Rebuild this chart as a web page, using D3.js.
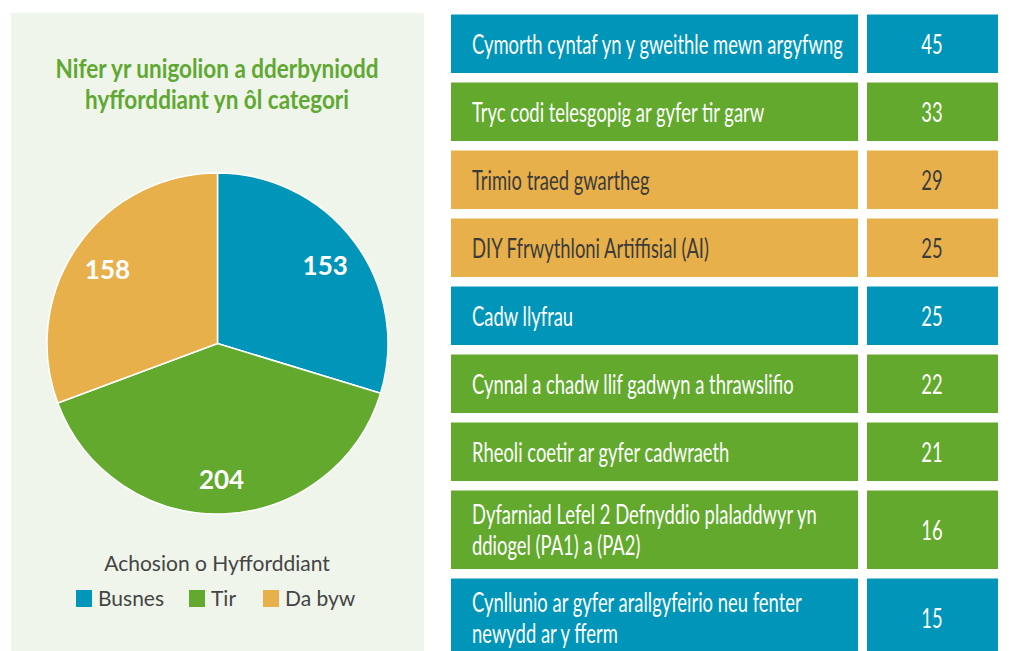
<!DOCTYPE html>
<meta charset="utf-8">
<script src="https://d3js.org/d3.v7.min.js"></script>
<style>
  body { margin: 0; background: #fff; }
</style>
<div id="chart"></div>
<script>

  // data
  var pieCategories = ["Busnes", "Tir", "Da byw"];
  var pieValues = [153, 204, 158];
  var categoryColors = ["#0095b9", "#62a92e", "#e8b04b"];

  var courseNames = [
    "Cymorth cyntaf yn y gweithle mewn argyfwng",
    "Tryc codi telesgopig ar gyfer tir garw",
    "Trimio traed gwartheg",
    "DIY Ffrwythloni Artiffisial (AI)",
    "Cadw llyfrau",
    "Cynnal a chadw llif gadwyn a thrawslifio",
    "Rheoli coetir ar gyfer cadwraeth",
    "Dyfarniad Lefel 2 Defnyddio plaladdwyr yn\nddiogel (PA1) a (PA2)",
    "Cynllunio ar gyfer arallgyfeirio neu fenter\nnewydd ar y fferm"
  ];
  var courseValues = [45, 33, 29, 25, 25, 22, 21, 16, 15];
  var courseCategories = ["Busnes", "Tir", "Da byw", "Da byw", "Busnes", "Tir", "Tir", "Tir", "Busnes"];

  var chartTitle = ["Nifer yr unigolion a dderbyniodd", "hyfforddiant yn ôl categori"];
  var legendTitle = "Achosion o Hyfforddiant";

  var width = 1011, height = 651;
  var font = "Lato, 'Open Sans', sans-serif";

  var svg = d3.select("#chart")
    .append("svg")
      .attr("width", width)
      .attr("height", height);

  var color = d3.scaleOrdinal()
      .domain(pieCategories)
      .range(categoryColors);

  // left panel
  svg.append("rect")
      .attr("x", 11).attr("y", 13)
      .attr("width", 413).attr("height", height - 13)
      .style("fill", "#eff5ea");

  // title (no condensed font installed, so squeeze it horizontally)
  var titleG = svg.append("g");
  var title = titleG.append("text")
      .attr("text-anchor", "middle")
      .style("font-family", font)
      .style("font-weight", "bold")
      .style("font-size", "27px")
      .style("fill", "#5fa832");
  title.selectAll("tspan")
    .data(chartTitle)
    .enter()
    .append("tspan")
      .attr("x", 0)
      .attr("y", function (d, i) { return 78 + i * 31; })
      .text(function (d) { return d; });
  var titleW = title.select("tspan").node().getComputedTextLength();
  titleG.attr("transform", "translate(217,0) scale(" + (323 / titleW) + ",1)");

  // pie
  var radius = 170.5;
  var pie = d3.pie().sort(null).value(function (d) { return d; });
  var arc = d3.arc().innerRadius(0).outerRadius(radius);
  var labelArc = d3.arc().innerRadius(134).outerRadius(134);

  var g = svg.append("g")
      .attr("transform", "translate(217.5,343.5)");

  var slices = pie(pieValues);

  g.selectAll("path")
    .data(slices)
    .enter()
    .append("path")
      .attr("d", arc)
      .style("fill", function (d, i) { return color(pieCategories[i]); })
      .style("stroke", "#fff")
      .style("stroke-width", 1.5);

  g.selectAll("text")
    .data(slices)
    .enter()
    .append("text")
      .attr("transform", function (d) { return "translate(" + labelArc.centroid(d) + ")"; })
      .attr("text-anchor", "middle")
      .attr("dy", "0.45em")
      .style("font-family", font)
      .style("font-weight", "bold")
      .style("font-size", "26px")
      .style("fill", "#fff")
      .text(function (d) { return d.data; });

  // legend
  svg.append("text")
      .attr("x", 217).attr("y", 571)
      .attr("text-anchor", "middle")
      .style("font-family", font)
      .style("font-size", "21px")
      .style("fill", "#444")
      .text(legendTitle);

  var legendX = [76, 189, 263];
  var legend = svg.selectAll(".legend")
    .data(pieCategories)
    .enter()
    .append("g")
      .attr("class", "legend")
      .attr("transform", function (d, i) { return "translate(" + legendX[i] + ",590)"; });

  legend.append("rect")
      .attr("width", 16).attr("height", 17)
      .style("fill", function (d) { return color(d); });

  legend.append("text")
      .attr("x", 22).attr("y", 16)
      .style("font-family", font)
      .style("font-size", "21px")
      .style("fill", "#444")
      .text(function (d) { return d; });

  // table of courses
  var rowGap = 9.5;
  var rowTops = [], rowHeights = [];
  var yPos = 14.5;
  courseNames.forEach(function (name) {
    var lines = name.split("\n").length;
    var h = lines > 1 ? 78.5 : 58.5;
    rowTops.push(yPos);
    rowHeights.push(h);
    yPos += h + rowGap;
  });

  var rows = svg.selectAll(".row")
    .data(courseNames)
    .enter()
    .append("g")
      .attr("class", "row")
      .attr("transform", function (d, i) { return "translate(0," + rowTops[i] + ")"; });

  rows.append("rect")
      .attr("x", 451).attr("width", 407)
      .attr("height", function (d, i) { return rowHeights[i]; })
      .style("fill", function (d, i) { return color(courseCategories[i]); });

  rows.append("rect")
      .attr("x", 867).attr("width", 131)
      .attr("height", function (d, i) { return rowHeights[i]; })
      .style("fill", function (d, i) { return color(courseCategories[i]); });

  var textColor = function (d, i) {
    return courseCategories[i] === "Da byw" ? "#3b3b3b" : "#fff";
  };

  var labelG = rows.append("g");
  labelG.append("text")
      .style("font-family", font)
      .style("font-size", "27px")
      .style("fill", textColor)
      .each(function (d, i) {
        var lines = d.split("\n");
        var h = rowHeights[i];
        var t = d3.select(this);
        lines.forEach(function (line, j) {
          t.append("tspan")
            .attr("x", 0)
            .attr("y", h / 2 + 10 + (j - (lines.length - 1) / 2) * 31)
            .text(line);
        });
      });

  // squeeze so the first course name fills the same width as in the original
  var firstW = labelG.select("text").node().getComputedTextLength();
  var sx = 371 / firstW;
  labelG.attr("transform", "translate(472,0) scale(" + sx + ",1)");

  rows.append("g")
      .attr("transform", "translate(932,0) scale(" + sx + ",1)")
    .append("text")
      .attr("y", function (d, i) { return rowHeights[i] / 2 + 10; })
      .attr("text-anchor", "middle")
      .style("font-family", font)
      .style("font-size", "27px")
      .style("fill", textColor)
      .text(function (d, i) { return courseValues[i]; });

</script>
